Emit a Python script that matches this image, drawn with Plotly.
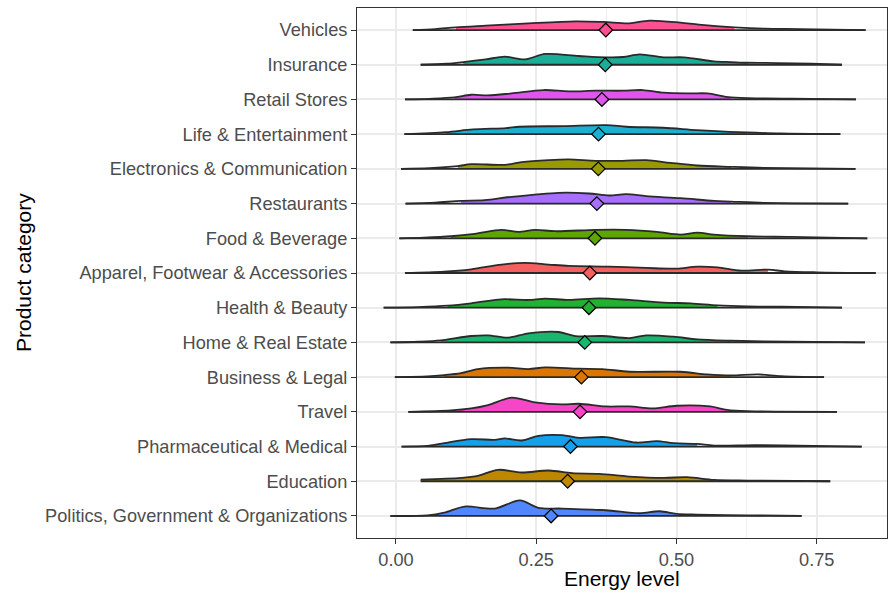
import plotly.graph_objects as go

# Categories, bottom (y=1) to top (y=15)
categories = [
    "Politics, Government & Organizations", "Education", "Pharmaceutical & Medical",
    "Travel", "Business & Legal", "Home & Real Estate", "Health & Beauty",
    "Apparel, Footwear & Accessories", "Food & Beverage", "Restaurants",
    "Electronics & Communication", "Life & Entertainment", "Retail Stores",
    "Insurance", "Vehicles",
]
colors = [
    "#5087FF", "#BD8800", "#15A0EC", "#F646C8", "#DB7700", "#1AB56E", "#22B232",
    "#F55F5F", "#5DA600", "#A86EFF", "#999A00", "#1BAFD0", "#DF55EE", "#1AAE98", "#FF4F93",
]
mean_energy = [0.2765, 0.306, 0.311, 0.328, 0.3305, 0.3365, 0.344, 0.3455,
               0.3546, 0.358, 0.3606, 0.361, 0.367, 0.373, 0.374]
fill_lo = [0.056, 0.044, 0.068, 0.098, 0.086, 0.08, 0.092, 0.086,
           0.098, 0.116, 0.11, 0.089, 0.104, 0.12, 0.107]
fill_hi = [0.5, 0.567, 0.537, 0.59, 0.597, 0.597, 0.573, 0.663,
           0.627, 0.597, 0.597, 0.625, 0.597, 0.627, 0.603]

# Density estimates (energy level, density)
ridge_x = [
    [-0.01, 0.056, 0.086, 0.122, 0.176, 0.221, 0.254, 0.296, 0.374, 0.434, 0.47, 0.5, 0.537, 0.627, 0.723],
    [0.044, 0.116, 0.146, 0.182, 0.224, 0.272, 0.314, 0.362, 0.416, 0.477, 0.519, 0.567, 0.627, 0.774],
    [0.01, 0.056, 0.068, 0.086, 0.134, 0.176, 0.194, 0.224, 0.254, 0.296, 0.326, 0.374, 0.428, 0.465, 0.495, 0.537, 0.567, 0.639, 0.717, 0.83],
    [0.022, 0.098, 0.134, 0.164, 0.206, 0.248, 0.296, 0.326, 0.374, 0.416, 0.458, 0.5, 0.56, 0.59, 0.627, 0.786],
    [-0.002, 0.056, 0.086, 0.116, 0.146, 0.2, 0.236, 0.266, 0.326, 0.368, 0.416, 0.507, 0.555, 0.597, 0.645, 0.687, 0.763],
    [-0.01, 0.04, 0.08, 0.134, 0.164, 0.2, 0.236, 0.29, 0.32, 0.368, 0.416, 0.446, 0.495, 0.537, 0.597, 0.657, 0.836],
    [-0.022, 0.04, 0.092, 0.134, 0.188, 0.236, 0.266, 0.308, 0.362, 0.416, 0.477, 0.525, 0.573, 0.627, 0.687, 0.795],
    [0.016, 0.086, 0.134, 0.188, 0.23, 0.272, 0.308, 0.38, 0.446, 0.5, 0.537, 0.573, 0.615, 0.663, 0.693, 0.75, 0.855],
    [0.006, 0.05, 0.098, 0.14, 0.188, 0.218, 0.248, 0.284, 0.356, 0.41, 0.465, 0.507, 0.537, 0.567, 0.627, 0.705, 0.84],
    [0.017, 0.07, 0.116, 0.158, 0.206, 0.29, 0.344, 0.38, 0.41, 0.446, 0.507, 0.567, 0.597, 0.657, 0.806],
    [0.009, 0.06, 0.11, 0.134, 0.194, 0.224, 0.272, 0.308, 0.356, 0.404, 0.446, 0.489, 0.537, 0.597, 0.657, 0.819],
    [0.015, 0.089, 0.137, 0.196, 0.22, 0.298, 0.375, 0.411, 0.476, 0.536, 0.595, 0.625, 0.685, 0.792],
    [0.016, 0.06, 0.104, 0.134, 0.164, 0.206, 0.263, 0.308, 0.356, 0.404, 0.44, 0.477, 0.525, 0.555, 0.597, 0.657, 0.74, 0.82],
    [0.044, 0.09, 0.12, 0.16, 0.194, 0.23, 0.266, 0.326, 0.374, 0.405, 0.434, 0.477, 0.513, 0.567, 0.597, 0.627, 0.68, 0.74, 0.795],
    [0.03, 0.07, 0.107, 0.16, 0.236, 0.32, 0.37, 0.416, 0.452, 0.507, 0.54, 0.603, 0.657, 0.72, 0.837],
]
ridge_density = [
    [0.0, 0.2, 1.0, 2.8, 2.2, 4.6, 2.4, 2.2, 1.7, 0.8, 1.4, 0.6, 0.4, 0.2, 0.0],
    [0.5, 1.0, 1.6, 3.4, 2.6, 3.2, 2.4, 2.2, 1.4, 1.0, 1.2, 0.4, 0.2, 0.0],
    [0.0, 0.2, 0.5, 1.0, 2.2, 2.0, 2.4, 1.8, 3.2, 3.4, 2.6, 2.8, 1.2, 1.6, 1.0, 0.8, 0.3, 0.4, 0.3, 0.0],
    [0.0, 0.4, 1.0, 2.0, 4.2, 2.8, 2.2, 2.4, 1.6, 1.6, 1.0, 1.8, 1.6, 0.6, 0.2, 0.0],
    [0.0, 0.2, 0.6, 1.2, 2.4, 2.8, 2.4, 2.9, 2.5, 2.4, 1.6, 1.6, 0.8, 0.5, 0.8, 0.3, 0.0],
    [0.0, 0.2, 0.6, 1.9, 2.1, 1.4, 2.7, 3.1, 1.9, 1.9, 1.3, 2.1, 1.7, 0.9, 0.5, 0.3, 0.0],
    [0.0, 0.2, 0.6, 1.3, 2.5, 2.3, 2.7, 2.3, 2.8, 2.3, 1.5, 1.3, 0.7, 0.4, 0.3, 0.0],
    [0.0, 0.4, 1.1, 2.5, 3.0, 2.5, 2.1, 1.9, 1.5, 1.3, 1.9, 1.7, 0.7, 1.0, 0.5, 0.2, 0.0],
    [0.0, 0.2, 0.6, 1.3, 2.5, 1.9, 2.5, 2.1, 2.5, 2.5, 1.9, 1.1, 1.7, 1.1, 0.6, 0.4, 0.0],
    [0.0, 0.3, 0.8, 1.0, 2.0, 3.2, 3.0, 2.4, 2.8, 2.2, 1.6, 0.8, 0.6, 0.2, 0.0],
    [0.0, 0.2, 0.8, 1.4, 1.2, 2.0, 2.6, 2.8, 2.4, 2.4, 2.6, 1.8, 1.0, 0.6, 0.3, 0.0],
    [0.0, 0.6, 1.4, 1.8, 2.2, 2.4, 2.7, 2.2, 1.9, 1.2, 0.7, 0.5, 0.2, 0.0],
    [0.0, 0.2, 0.6, 1.4, 1.2, 1.8, 2.8, 2.4, 2.6, 2.6, 2.8, 2.0, 1.8, 1.8, 0.6, 0.3, 0.2, 0.0],
    [0.0, 0.3, 0.8, 1.6, 2.4, 1.6, 3.2, 2.6, 2.2, 2.3, 3.1, 2.2, 2.2, 1.0, 0.8, 0.6, 0.5, 0.3, 0.0],
    [0.0, 0.3, 0.8, 1.3, 2.0, 2.6, 2.4, 2.0, 2.8, 2.2, 1.6, 0.8, 0.4, 0.3, 0.0],
]

SCALE = 0.097  # rows per density unit
OUTLINE = "#2A2A2A"
SMOOTH = 0.9

fig = go.Figure()

for i, cat in enumerate(categories):
    base = i + 1
    xs = ridge_x[i]
    ds = ridge_density[i]
    lo, hi = fill_lo[i], fill_hi[i]
    sub = [(x, d) for x, d in zip(xs, ds) if lo - 1e-9 <= x <= hi + 1e-9]
    # baseline of the filled band
    fig.add_trace(go.Scatter(x=[lo, hi], y=[base, base], mode="lines",
                             line=dict(width=0, color=colors[i]),
                             hoverinfo="skip", showlegend=False))
    fig.add_trace(go.Scatter(x=[p[0] for p in sub], y=[base + p[1] * SCALE for p in sub],
                             mode="lines", line=dict(width=0, color=colors[i], shape="spline", smoothing=SMOOTH),
                             fill="tonexty", fillcolor=colors[i],
                             hoverinfo="skip", showlegend=False))
    # outline
    fig.add_trace(go.Scatter(x=xs, y=[base + d * SCALE for d in ds], mode="lines",
                             line=dict(width=1.8, color=OUTLINE, shape="spline", smoothing=SMOOTH),
                             hoverinfo="skip", showlegend=False))
    fig.add_trace(go.Scatter(x=[xs[0], xs[-1]], y=[base, base], mode="lines",
                             line=dict(width=1.8, color=OUTLINE),
                             hoverinfo="skip", showlegend=False))

fig.add_trace(go.Scatter(
    x=mean_energy, y=list(range(1, len(categories) + 1)), mode="markers",
    marker=dict(symbol="diamond", size=10.5, color=colors,
                line=dict(color="black", width=1.2)),
    showlegend=False, hovertext=categories))

fig.update_layout(
    width=888, height=592,
    margin=dict(l=357, r=1, t=8, b=54),
    paper_bgcolor="white", plot_bgcolor="white",
    font=dict(family="Liberation Sans, Arial, sans-serif", color="#4D4D4D", size=18.2),
    showlegend=False,
    xaxis=dict(
        range=[-0.0695, 0.8752], tickmode="linear", tick0=0, dtick=0.25, tickformat=".2f",
        showgrid=True, gridcolor="#EBEBEB", gridwidth=1.6,
        minor=dict(tick0=0.125, dtick=0.25, showgrid=True, gridcolor="#F0F0F0", gridwidth=1),
        showline=True, linecolor="#333333", linewidth=1, mirror=True,
        ticks="outside", ticklen=5, tickwidth=1, tickcolor="#333333",
        zeroline=False, tickfont=dict(size=18.2, color="#4D4D4D"),
    ),
    yaxis=dict(
        range=[0.365, 15.635], tickmode="array",
        tickvals=list(range(1, len(categories) + 1)), ticktext=categories,
        showgrid=True, gridcolor="#EBEBEB", gridwidth=1.6,
        showline=True, linecolor="#333333", linewidth=1, mirror=True,
        ticks="outside", ticklen=5, tickwidth=1, tickcolor="#333333",
        zeroline=False, tickfont=dict(size=18.2, color="#4D4D4D"),
    ),
    annotations=[
        dict(text="Energy level", xref="paper", yref="paper", x=0.5, y=0.0,
             xanchor="center", yanchor="middle", yshift=-40, showarrow=False,
             font=dict(size=21, color="black")),
        dict(text="Product category", xref="paper", yref="paper", x=0, y=0.5,
             xanchor="center", yanchor="middle", xshift=-334, textangle=-90, showarrow=False,
             font=dict(size=21, color="black")),
    ],
)

fig.write_html("out.html")
